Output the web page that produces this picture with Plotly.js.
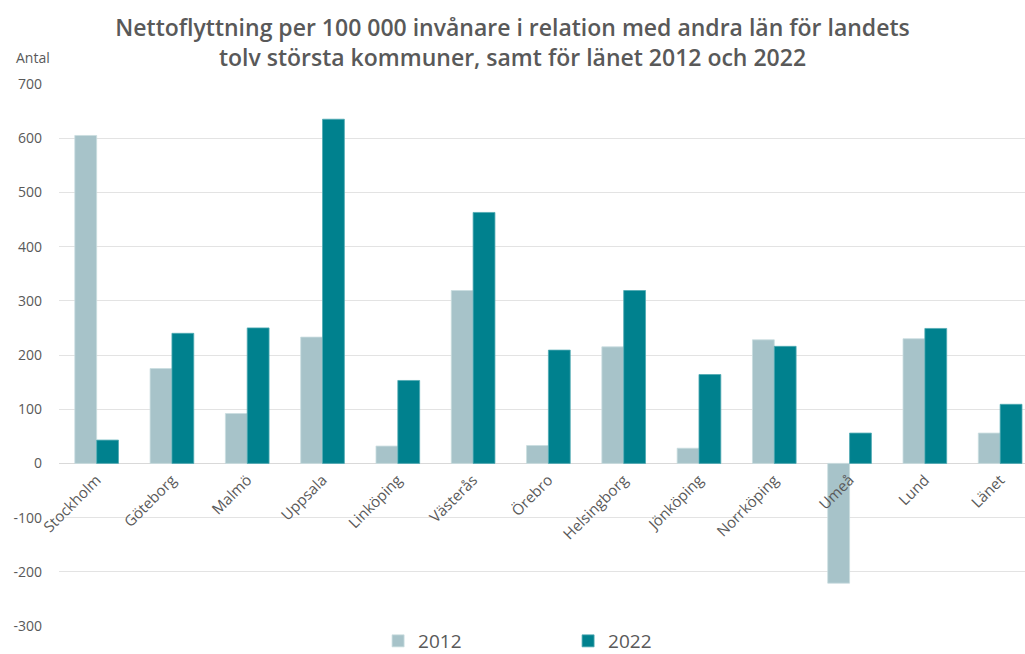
<!DOCTYPE html>
<html>
<head>
<meta charset="utf-8">
<script src="https://cdn.plot.ly/plotly-3.0.1.min.js"></script>
<style>html,body{margin:0;padding:0;background:#fff;overflow:hidden}#chart{width:1025px;height:654px}</style>
</head>
<body>
<div id="chart"></div>
<script>
const categories = ["Stockholm","Göteborg","Malmö","Uppsala","Linköping","Västerås","Örebro","Helsingborg","Jönköping","Norrköping","Umeå","Lund","Länet"];
const values2012 = [605, 175, 92, 233, 32, 319, 33, 215, 28, 228, -221, 230, 56];
const values2022 = [43, 240, 250, 635, 153, 463, 209, 319, 164, 216, 56, 249, 109];
const seriesNames = ["2012", "2022"];
const yTicks = [-300, -200, -100, 0, 100, 200, 300, 400, 500, 600, 700];

const gray = "#595959";
const font = "Open Sans, sans-serif";

const traces = [
  {type: "bar", name: seriesNames[0], x: categories, y: values2012,
   marker: {color: "#a7c3c9", line: {color: "#c9dde0", width: 0.8}}},
  {type: "bar", name: seriesNames[1], x: categories, y: values2022,
   marker: {color: "#00818e", line: {color: "#4fa9b2", width: 0.8}}}
];

const zeroPos = 300 / 1000;

const layout = {
  width: 1025, height: 654,
  margin: {l: 59, r: 0, t: 84, b: 28, autoexpand: false},
  paper_bgcolor: "#fff", plot_bgcolor: "#fff",
  barmode: "group", bargap: 0.42, bargroupgap: 0,
  title: {text: "Nettoflyttning per 100 000 invånare i relation med andra län för landets<br>tolv största kommuner, samt för länet 2012 och 2022",
    font: {family: font, size: 23, color: gray, weight: 600},
    x: 0.5, xanchor: "center", xref: "container", yref: "container", y: 0.945, yanchor: "middle"},
  xaxis: {type: "category", range: [-0.5, 12.33], anchor: "free", position: zeroPos,
    tickangle: -45, showgrid: false, zeroline: false, showline: false, ticks: "", ticklabelstandoff: 4,
    tickfont: {family: font, size: 15, color: gray}},
  yaxis: {range: [-300, 700], tickvals: yTicks, ticktext: yTicks.map(String),
    showgrid: true, gridcolor: "#e3e3e3", gridwidth: 1.2, zeroline: true, zerolinecolor: "#d9d9d9", zerolinewidth: 1.2,
    showline: false, ticks: "", ticklabelstandoff: 16,
    tickfont: {family: font, size: 14, color: gray}},
  showlegend: true,
  legend: {orientation: "h", x: 0.527, xanchor: "center", yref: "container", y: 13/654, yanchor: "middle",
    font: {family: font, size: 19, color: gray}, entrywidth: 145, itemwidth: 30, traceorder: "normal"},
  annotations: [
    {text: "Antal", xref: "paper", yref: "paper", x: -0.047, y: 1.027, xanchor: "left", yanchor: "bottom",
     showarrow: false, font: {family: font, size: 14, color: gray}}
  ]
};

Plotly.newPlot("chart", traces, layout, {displayModeBar: false, responsive: false});
</script>
</body>
</html>
